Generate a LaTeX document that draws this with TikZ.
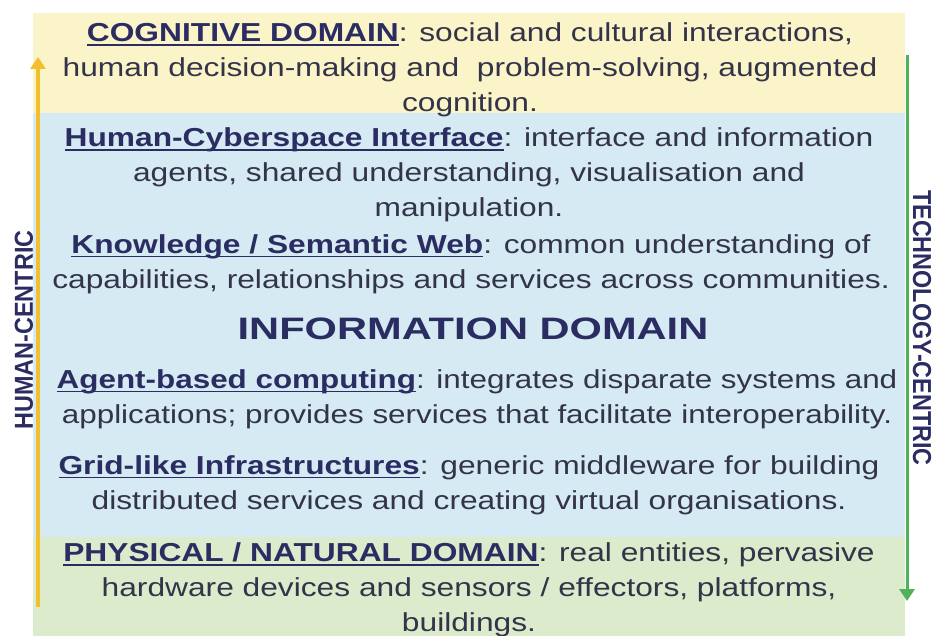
\documentclass[tikz,border=0pt]{standalone}
\usepackage{fontspec}
\setmainfont{Liberation Sans}
\usetikzlibrary{arrows.meta}
\definecolor{cogyel}{HTML}{FBF4C8}
\definecolor{infblue}{HTML}{D5EAF2}
\definecolor{phygreen}{HTML}{DBEBCB}
\definecolor{headcol}{HTML}{2B2D62}
\definecolor{bodycol}{HTML}{33334A}
\definecolor{arrowyel}{HTML}{F2C02E}
\definecolor{arrowgrn}{HTML}{4FB25A}
\newcommand{\hul}[1]{\setbox0\hbox{\textbf{#1}}\rlap{\rule[-4pt]{\wd0}{1.5pt}}\box0}
\tikzset{
  para/.style={align=center, text=bodycol, font=\fontsize{26}{35}\selectfont, inner sep=0pt, xscale=1.22},
  vlabel/.style={text=headcol, font=\bfseries\fontsize{26}{30}\selectfont, inner sep=0pt},
}
\begin{document}
\begin{tikzpicture}[x=1pt,y=-1pt]
\useasboundingbox (0,0) rectangle (945,636);
\fill[white] (0,0) rectangle (945,636);
% bands
\fill[cogyel] (33,13) rectangle (905,113);
\fill[infblue] (33,113) rectangle (905,537);
\fill[phygreen] (33,537) rectangle (905,636);
% texts
\node[para] (cog) at (470,70) {\color{headcol}\hul{COGNITIVE DOMAIN}\color{bodycol}: social and cultural interactions,\\
human decision-making and \ problem-solving, augmented\\ cognition.};
\node[para] (hci) at (469,175) {\color{headcol}\hul{Human-Cyberspace Interface}\color{bodycol}: interface and information\\
agents, shared understanding, visualisation and\\ manipulation.};
\node[para] (kw) at (471,264) {\color{headcol}\hul{Knowledge / Semantic Web}\color{bodycol}: common understanding of\\
capabilities, relationships and services across communities.};
\node[para, text=headcol, font=\bfseries\fontsize{31}{36}\selectfont, xscale=1.1] (inf) at (473,329) {INFORMATION DOMAIN};
\node[para, xscale=0.99] (abc) at (477,399) {\color{headcol}\hul{Agent-based computing}\color{bodycol}: integrates disparate systems and\\
applications; provides services that facilitate interoperability.};
\node[para] (grid) at (469,485) {\color{headcol}\hul{Grid-like Infrastructures}\color{bodycol}: generic middleware for building\\
distributed services and creating virtual organisations.};
\node[para] (phy) at (469,590) {\color{headcol}\hul{PHYSICAL / NATURAL DOMAIN}\color{bodycol}: real entities, pervasive\\
hardware devices and sensors / effectors, platforms,\\ buildings.};
% side labels
\node[vlabel, rotate=90] (hc) at (24,330) {\scalebox{0.9}[1]{HUMAN-CENTRIC}};
\node[vlabel, rotate=-90] (tc) at (922,328) {\scalebox{0.9}[1]{TECHNOLOGY-CENTRIC}};
% arrows
\coordinate (ya) at (38,607);
\coordinate (yb) at (38,57);
\coordinate (ga) at (907,55);
\coordinate (gb) at (907,601);
\draw[arrowyel, line width=3.5pt, -{Triangle[width=15pt,length=12pt]}] (ya) -- (yb);
\draw[arrowgrn, line width=3pt, -{Triangle[width=15pt,length=12pt]}] (ga) -- (gb);
\end{tikzpicture}
\end{document}
